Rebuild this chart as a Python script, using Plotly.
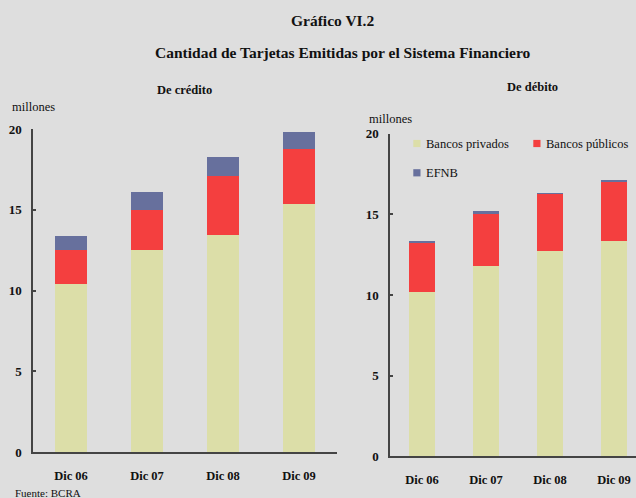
import plotly.graph_objects as go

categories = ["Dic 06", "Dic 07", "Dic 08", "Dic 09"]

credito_privados = [10.42, 12.53, 13.45, 15.37]
credito_publicos = [2.11, 2.47, 3.65, 3.38]
credito_efnb = [0.87, 1.12, 1.18, 1.08]

debito_privados = [10.19, 11.80, 12.73, 13.35]
debito_publicos = [3.03, 3.24, 3.55, 3.72]
debito_efnb = [0.13, 0.16, 0.06, 0.06]

series_names = ["Bancos privados", "Bancos públicos", "EFNB"]
colors = ["#DCDEA8", "#F43F3F", "#67709D"]
y_ticks = [0, 5, 10, 15, 20]

W, H = 636, 498
BG = "#DEDEDE"
FONT = "Liberation Serif"
TXT = "#111111"

fig = go.Figure()

x_idx = list(range(len(categories)))

for name, vals, col in zip(series_names, [credito_privados, credito_publicos, credito_efnb], colors):
    fig.add_trace(go.Bar(x=x_idx, y=vals, name=name, marker=dict(color=col, line=dict(width=0)),
                         width=0.41, xaxis="x", yaxis="y", showlegend=False))
for name, vals, col in zip(series_names, [debito_privados, debito_publicos, debito_efnb], colors):
    fig.add_trace(go.Bar(x=x_idx, y=vals, name=name, marker=dict(color=col, line=dict(width=0)),
                         width=0.41, xaxis="x2", yaxis="y2", showlegend=False))


def px_x(p):
    return p / W


def px_y(p):
    return 1 - p / H


axis_common = dict(
    showgrid=False, zeroline=False, showline=True, linecolor="#444444", linewidth=1.5,
)
xtickfont = dict(family=FONT, size=12.5, color=TXT, weight="bold")
ytickfont = dict(family=FONT, size=13, color=TXT, weight="bold")

fig.update_layout(
    width=W, height=H,
    margin=dict(l=0, r=0, t=0, b=0, autoexpand=False),
    paper_bgcolor=BG, plot_bgcolor=BG,
    barmode="stack",
    showlegend=False,
    font=dict(family=FONT, size=12, color=TXT),
    xaxis=dict(domain=[px_x(33), px_x(337)], range=[-0.5, 3.5], anchor="y",
               tickmode="array", tickvals=x_idx, ticktext=categories, ticks="",
               tickfont=xtickfont, ticklabelstandoff=11, **axis_common),
    yaxis=dict(domain=[px_y(452.3), px_y(129)], range=[0, 20], anchor="x",
               tickmode="array", tickvals=y_ticks, ticks="inside", ticklen=3, tickwidth=1.5,
               tickcolor="#444444", tickfont=ytickfont, ticklabelstandoff=7, **axis_common),
    xaxis2=dict(domain=[px_x(390), 1.0], range=[-0.5, 3.344], anchor="y2",
                tickmode="array", tickvals=x_idx, ticktext=categories, ticks="",
                tickfont=xtickfont, ticklabelstandoff=11, **axis_common),
    yaxis2=dict(domain=[px_y(456.3), px_y(133.7)], range=[0, 20], anchor="x2",
                tickmode="array", tickvals=y_ticks, ticks="inside", ticklen=3, tickwidth=1.5,
                tickcolor="#444444", tickfont=ytickfont, ticklabelstandoff=7, **axis_common),
)

# Titles
titles = [
    ("<b>Gráfico VI.2</b>", 332.5, 20, 15.5),
    ("<b>Cantidad de Tarjetas Emitidas por el Sistema Financiero</b>", 342.5, 53, 15.5),
    ("<b>De crédito</b>", 184.5, 90, 12.5),
    ("<b>De débito</b>", 532, 87, 12.5),
]
for text, x, y, s in titles:
    fig.add_annotation(text=text, x=px_x(x), y=px_y(y), xref="paper", yref="paper",
                       xanchor="center", yanchor="middle", showarrow=False,
                       font=dict(family=FONT, size=s, color=TXT))

for txt, x, y, s in [("millones", 10, 107, 12.5), ("millones", 367, 119, 12.5),
                     ("Fuente: BCRA", 13, 493, 11)]:
    fig.add_annotation(text=txt, x=px_x(x), y=px_y(y), xref="paper", yref="paper",
                       xanchor="left", yanchor="middle", showarrow=False,
                       font=dict(family=FONT, size=s, color=TXT))

# Legend (key) for the debit panel, laid out in two rows as in the original
legend_slots = [(413.3, 143.5), (533.3, 143.5), (413.3, 172.8)]
for name, col, (lx, ly) in zip(series_names, colors, legend_slots):
    fig.add_shape(type="rect", xref="paper", yref="paper",
                  x0=px_x(lx), x1=px_x(lx + 7.2), y0=px_y(ly - 3.6), y1=px_y(ly + 3.6),
                  fillcolor=col, line=dict(width=0))
    fig.add_annotation(text=name, x=px_x(lx + 10.5), y=px_y(ly), xref="paper", yref="paper",
                       xanchor="left", yanchor="middle", showarrow=False,
                       font=dict(family=FONT, size=12.5, color=TXT))

fig.write_html("out.html", config={"displayModeBar": False},
               post_script="document.body.style.margin='0';document.body.style.overflow='hidden';")
